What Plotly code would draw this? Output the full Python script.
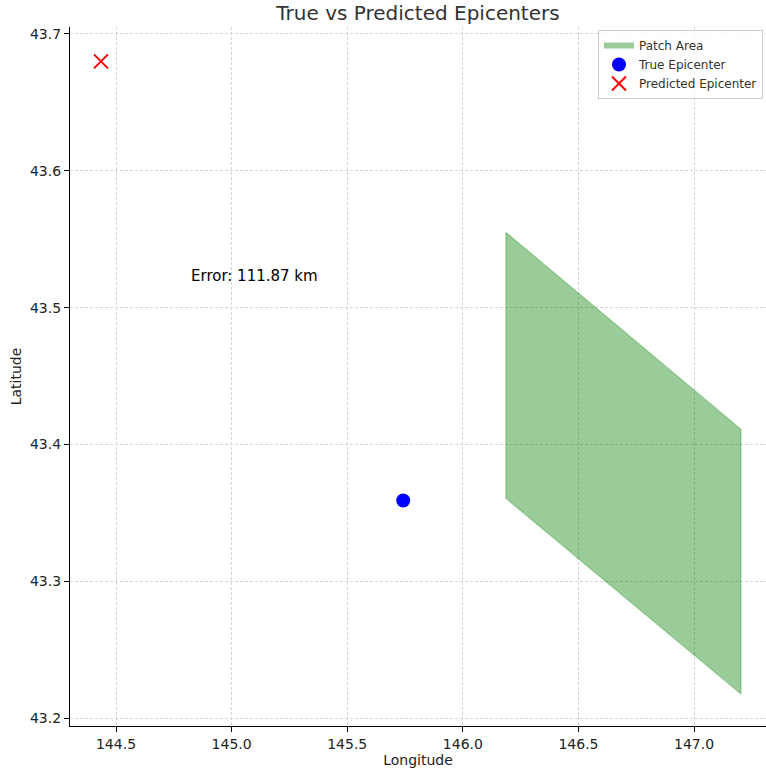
import plotly.graph_objects as go

# Data
patch_lon = [146.186, 147.203, 147.203, 146.186, 146.186]
patch_lat = [43.555, 43.411, 43.2175, 43.3606, 43.555]
true_lon = [145.742]
true_lat = [43.359]
pred_lon = [144.435]
pred_lat = [43.680]
error_text = "Error: 111.87 km"
error_pos = (144.814, 43.523)
x_ticks = [144.5, 145.0, 145.5, 146.0, 146.5, 147.0]
y_ticks = [43.2, 43.3, 43.4, 43.5, 43.6, 43.7]

font_family = "DejaVu Sans"

fig = go.Figure()
fig.add_trace(go.Scatter(
    x=patch_lon, y=patch_lat, mode="none", fill="toself",
    fillcolor="rgba(0,128,0,0.4)",
    name="Patch Area"))
fig.add_trace(go.Scatter(
    x=patch_lon, y=patch_lat, mode="lines",
    line=dict(color="rgba(0,128,0,0.3)", width=1.2),
    showlegend=False, hoverinfo="skip"))
fig.add_trace(go.Scatter(
    x=true_lon, y=true_lat, mode="markers",
    marker=dict(color="blue", size=14, symbol="circle"),
    name="True Epicenter"))
fig.add_trace(go.Scatter(
    x=pred_lon, y=pred_lat, mode="markers",
    marker=dict(color="red", size=14, symbol="x-thin", line=dict(color="red", width=2)),
    name="Predicted Epicenter"))

fig.add_annotation(x=error_pos[0], y=error_pos[1], text=error_text, showarrow=False,
                   xanchor="left", yanchor="middle",
                   font=dict(family=font_family, size=15, color="black"))

axis_common = dict(
    showgrid=True, gridcolor="#d4d4d4", griddash="3px,2px", gridwidth=0.8,
    showline=True, linecolor="black", linewidth=1.2,
    ticks="outside", ticklen=5, tickcolor="black", tickwidth=1,
    zeroline=False, mirror=False,
    tickfont=dict(family=font_family, size=14, color="#222"),
)

fig.update_layout(
    width=766, height=770,
    margin=dict(l=70, r=0, t=27, b=44, autoexpand=False),
    paper_bgcolor="white", plot_bgcolor="white",
    font=dict(family=font_family, color="#333"),
    title=dict(text="True vs Predicted Epicenters", x=(70 + 766) / 2 / 766, xanchor="center",
               y=1 - 13 / 770, yanchor="middle", yref="container",
               font=dict(family=font_family, size=20, color="#333")),
    xaxis=dict(range=[144.301, 147.311], tickvals=x_ticks,
               ticktext=[f"{v:.1f}" for v in x_ticks],
               title=dict(text="Longitude", font=dict(family=font_family, size=14, color="#222"), standoff=2),
               **axis_common),
    yaxis=dict(range=[43.1942, 43.7051], tickvals=y_ticks,
               ticktext=[f"{v:.1f}" for v in y_ticks],
               title=dict(text="Latitude", font=dict(family=font_family, size=14, color="#222"), standoff=5),
               **axis_common),
    legend=dict(x=(598 - 70) / 696, xanchor="left", y=0.9957, yanchor="top",
                bgcolor="rgba(255,255,255,0.8)", bordercolor="#cccccc", borderwidth=1,
                font=dict(family=font_family, size=12, color="#333"),
                itemwidth=30, tracegroupgap=0),
    showlegend=True,
)

fig.write_html("out.html", config={"displayModeBar": False},
               post_script="document.body.style.margin='0';")
